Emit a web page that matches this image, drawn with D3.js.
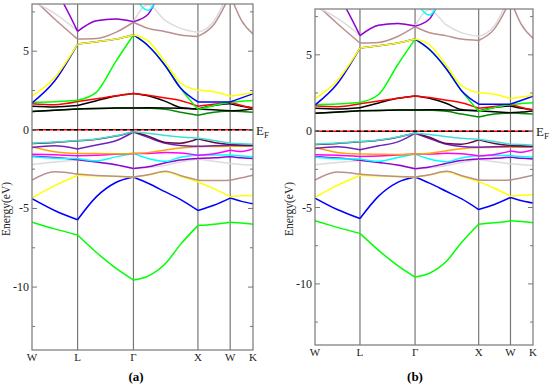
<!DOCTYPE html>
<html>
<head>
<meta charset="utf-8">
<script src="https://cdnjs.cloudflare.com/ajax/libs/d3/7.8.5/d3.min.js"></script>
<style>
body { margin: 0; background: #fff; }
text { font-family: "Liberation Serif", "DejaVu Serif", serif; }
</style>
</head>
<body>
<div id="chart"></div>
<script>
// k-path (fcc): W - L - Gamma - X - W - K
var kTicks = [0, 0.707, 1.573, 2.573, 3.073, 3.427];
var kLabels = ["W", "L", "\u0393", "X", "W", "K"];
var kSamples = [0, 0.35, 0.707, 1.0, 1.3, 1.573, 1.8, 2.07, 2.3, 2.573, 2.82, 3.073, 3.25, 3.427];

var energyTicks = [-10, -5, 0, 5];
var energyMinor = [-12.5, -7.5, -2.5, 2.5, 7.5];
var energyRange = [-14, 8];

// valence bands (eV), one value per k sample
var bandGreenLow  = [-5.87, -6.30, -6.69, -7.80, -8.80, -9.55, -9.30, -8.50, -7.30, -6.09, -6.00, -5.87, -5.92, -6.00];
var bandBlueLow   = [-4.38, -5.13, -5.72, -4.25, -3.35, -3.00, -3.40, -3.95, -4.42, -5.13, -4.80, -4.34, -4.55, -4.70];
var bandYellowLow = [-4.34, -3.55, -2.90, -2.94, -2.97, -3.00, -2.87, -2.66, -2.95, -3.30, -3.74, -4.25, -4.20, -4.17];
var bandBrownLow  = [-3.20, -2.67, -2.82, -2.90, -2.96, -3.00, -2.86, -2.63, -2.90, -3.20, -3.22, -3.20, -3.05, -2.88];
var bandGreyLow   = [-2.20, -2.05, -1.92, -2.05, -2.25, -2.46, -2.40, -2.25, -2.05, -1.85, -2.00, -2.14, -2.20, -2.24];
var bandViolet    = [-1.68, -1.76, -1.90, -2.05, -2.22, -2.46, -2.35, -2.10, -1.92, -1.82, -1.78, -1.71, -1.78, -1.82];
var bandCyan      = [-1.71, -1.80, -1.82, -1.97, -1.72, -1.50, -1.82, -2.00, -1.75, -1.60, -1.60, -1.60, -1.66, -1.71];
var bandMagenta   = [-1.55, -1.58, -1.65, -1.62, -1.56, -1.50, -1.50, -1.45, -1.48, -1.62, -1.52, -1.30, -1.38, -1.22];
var bandOrange    = [-1.07, -1.39, -1.50, -1.51, -1.52, -1.50, -1.45, -1.28, -1.15, -1.07, -1.06, -1.05, -1.05, -1.02];
var bandIndigo    = [-1.13, -1.02, -1.22, -0.96, -0.70, -0.14, -0.48, -0.86, -1.00, -1.05, -1.02, -0.98, -1.00, -1.02];
var bandMaroon    = [-0.87, -0.80, -0.70, -0.60, -0.40, -0.12, -0.40, -0.80, -0.85, -0.57, -0.80, -0.93, -0.96, -0.98];
var bandTurquoise = [-0.85, -0.78, -0.68, -0.58, -0.38, -0.12, -0.22, -0.36, -0.46, -0.53, -0.68, -0.85, -0.88, -0.92];

// conduction bands (eV)
var bandGreen4    = [1.17, 1.24, 1.33, 1.36, 1.38, 1.39, 1.37, 1.30, 1.12, 0.93, 1.12, 1.20, 1.16, 1.12];
var bandBlackLow  = [1.17, 1.25, 1.33, 1.36, 1.38, 1.39, 1.40, 1.39, 1.37, 1.33, 1.27, 1.21, 1.25, 1.32];
var bandBlackUp   = [1.50, 1.45, 1.54, 1.85, 2.15, 2.31, 2.16, 1.81, 1.42, 1.33, 1.55, 1.65, 1.50, 1.40];
var bandRed       = [1.66, 1.60, 1.80, 1.97, 2.16, 2.31, 2.20, 2.03, 1.86, 1.50, 1.62, 1.75, 1.55, 1.36];
var bandGreen     = [1.75, 1.78, 1.88, 2.40, 4.35, 6.03, 5.35, 4.06, 2.67, 1.30, 1.55, 1.75, 1.82, 1.86];
var bandBlue      = [1.71, 3.10, 5.45, 5.60, 5.77, 6.03, 5.35, 4.06, 2.67, 1.77, 1.77, 1.77, 2.03, 2.29];
var bandYellow    = [2.14, 3.31, 5.45, 5.60, 5.77, 6.03, 5.66, 4.27, 2.99, 2.52, 2.42, 2.14, 2.24, 2.35];
var bandBrownUp   = [8.40, 7.05, 5.77, 5.81, 6.20, 6.84, 6.45, 6.24, 6.03, 5.94, 6.70, 8.60, 6.94, 6.09];
var bandGreyUp    = [8.20, 7.40, 6.28, 6.94, 7.05, 6.88, 7.95, 6.94, 6.45, 6.20, 6.90, 9.00, 8.60, 8.40];
var bandVioletUp  = [10.5, 9.00, 6.26, 6.94, 7.05, 6.88, 7.35, 9.50, 10.5, 11.0, 11.0, 11.0, 11.0, 11.0];
var bandCyanUp    = [12.0, 11.5, 11.0, 10.0, 9.20, 8.60, 7.60, 9.50, 10.5, 11.0, 11.0, 11.0, 11.0, 11.0];

var bands = [
	{ color: "#00ff00", values: bandGreenLow },
	{ color: "#0000ff", values: bandBlueLow },
	{ color: "#ffff00", values: bandYellowLow },
	{ color: "#bc8f8f", values: bandBrownLow },
	{ color: "#dcdcdc", values: bandGreyLow },
	{ color: "#9400d3", values: bandViolet },
	{ color: "#00ffff", values: bandCyan },
	{ color: "#ff00ff", values: bandMagenta },
	{ color: "#ffa500", values: bandOrange },
	{ color: "#7221bc", values: bandIndigo },
	{ color: "#670748", values: bandMaroon },
	{ color: "#40e0d0", values: bandTurquoise },
	{ color: "#008b00", values: bandGreen4 },
	{ color: "#000000", values: bandBlackLow },
	{ color: "#000000", values: bandBlackUp },
	{ color: "#ff0000", values: bandRed },
	{ color: "#00ff00", values: bandGreen },
	{ color: "#0000ff", values: bandBlue },
	{ color: "#ffff00", values: bandYellow },
	{ color: "#bc8f8f", values: bandBrownUp },
	{ color: "#dcdcdc", values: bandGreyUp },
	{ color: "#9400d3", values: bandVioletUp },
	{ color: "#00ffff", values: bandCyanUp }
];

var FRAME = "#777";

var svg = d3.select("#chart").append("svg")
	.attr("width", 550)
	.attr("height", 388);

function drawPanel(id, left, right, top, bottom, label, labelX)
{
	var x = d3.scaleLinear().domain([kTicks[0], kTicks[kTicks.length - 1]]).range([left, right]);
	var y = d3.scaleLinear().domain(energyRange).range([bottom, top]);

	svg.append("clipPath").attr("id", "clip" + id)
		.append("rect")
		.attr("x", left).attr("y", top)
		.attr("width", right - left).attr("height", bottom - top);

	var g = svg.append("g");

	// high symmetry lines
	g.selectAll("line.sym")
		.data(kTicks.slice(1, -1))
		.enter().append("line")
		.attr("x1", function(d) { return x(d); })
		.attr("x2", function(d) { return x(d); })
		.attr("y1", top).attr("y2", bottom)
		.attr("stroke", FRAME)
		.attr("stroke-width", 1.2);

	var line = d3.line()
		.x(function(d) { return x(d.k); })
		.y(function(d) { return y(d.e); })
		.curve(d3.curveMonotoneX);

	var bg = g.append("g").attr("clip-path", "url(#clip" + id + ")");

	bands.forEach(function(b)
	{
		for (var s = 0; s < kTicks.length - 1; s++)
		{
			var seg = [];
			kSamples.forEach(function(k, i)
			{
				if (k >= kTicks[s] - 1e-6 && k <= kTicks[s + 1] + 1e-6)
					seg.push({ k: k, e: b.values[i] });
			});
			bg.append("path")
				.datum(seg)
				.attr("fill", "none")
				.attr("stroke", b.color)
				.attr("stroke-width", 1.5)
				.attr("d", line);
		}
	});

	// Fermi level
	g.append("line")
		.attr("x1", left).attr("x2", right)
		.attr("y1", y(0)).attr("y2", y(0))
		.attr("stroke", "#ff0000").attr("stroke-width", 1.5);
	g.append("line")
		.attr("x1", left).attr("x2", right)
		.attr("y1", y(0)).attr("y2", y(0))
		.attr("stroke", "#000").attr("stroke-width", 1.5)
		.attr("stroke-dasharray", "4,3");

	// frame
	g.append("rect")
		.attr("x", left).attr("y", top)
		.attr("width", right - left).attr("height", bottom - top)
		.attr("fill", "none")
		.attr("stroke", FRAME)
		.attr("stroke-width", 1.2);

	// y ticks, both sides pointing inward
	[[left, 1], [right, -1]].forEach(function(side)
	{
		var xs = side[0], dir = side[1];
		g.selectAll(null).data(energyTicks).enter().append("line")
			.attr("x1", xs).attr("x2", xs + dir * 5)
			.attr("y1", function(d) { return y(d); })
			.attr("y2", function(d) { return y(d); })
			.attr("stroke", FRAME);
		g.selectAll(null).data(energyMinor).enter().append("line")
			.attr("x1", xs).attr("x2", xs + dir * 3)
			.attr("y1", function(d) { return y(d); })
			.attr("y2", function(d) { return y(d); })
			.attr("stroke", FRAME);
	});

	g.selectAll(null).data(energyTicks).enter().append("text")
		.attr("x", left - 3)
		.attr("y", function(d) { return y(d) + 4; })
		.attr("text-anchor", "end")
		.attr("font-size", 12)
		.attr("fill", "#222")
		.text(function(d) { return String(d); });

	// k labels
	g.selectAll(null).data(kTicks).enter().append("text")
		.attr("x", function(d) { return x(d); })
		.attr("y", bottom + 11)
		.attr("text-anchor", "middle")
		.attr("font-size", 11)
		.attr("fill", "#222")
		.text(function(d, i) { return kLabels[i]; });

	// axis title
	g.append("text")
		.attr("transform", "translate(" + (left - 22) + "," + ((top + bottom) / 2 + 32) + ") rotate(-90)")
		.attr("text-anchor", "middle")
		.attr("font-size", 11.5)
		.attr("fill", "#222")
		.text("Energy(eV)");

	// E_F label
	var ef = g.append("text")
		.attr("x", right + 3)
		.attr("y", y(0) + 5)
		.attr("font-size", 13)
		.attr("fill", "#222");
	ef.append("tspan").text("E");
	ef.append("tspan").attr("font-size", 9).attr("dy", 3).text("F");

	// panel label
	g.append("text")
		.attr("x", labelX)
		.attr("y", 381)
		.attr("text-anchor", "middle")
		.attr("font-size", 13)
		.attr("font-weight", "bold")
		.attr("fill", "#000")
		.text(label);
}

drawPanel("a", 32, 253, 4, 350, "(a)", 136);
drawPanel("b", 315, 533, 9, 345, "(b)", 415);
</script>
</body>
</html>
